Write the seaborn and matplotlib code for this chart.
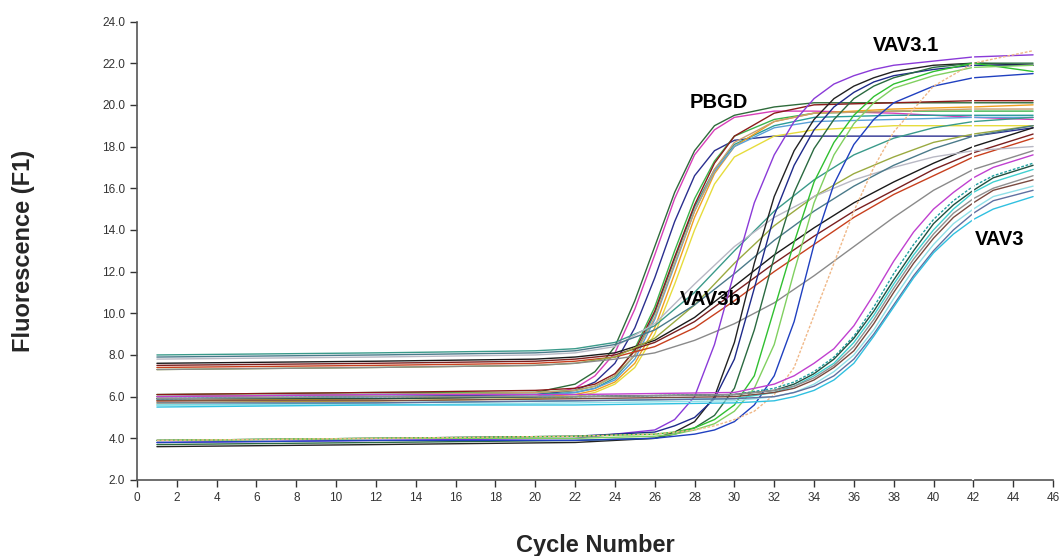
import pandas as pd
import matplotlib
matplotlib.use("Agg")
import matplotlib.pyplot as plt
import seaborn as sns

# ---- data ----
# PBGD: early risers from the ~6 baseline
pbgd_cycles = [1, 12, 20, 22, 23, 24, 25, 26, 27, 28, 29, 30, 32, 34, 38, 42, 45]
pbgd_fluor = [
    [6.0, 6.1, 6.2, 6.6, 7.2, 8.4, 10.6, 13.2, 15.8, 17.8, 19.0, 19.5, 19.9, 20.1, 20.1, 20.1, 20.1],
    [5.8, 5.9, 6.0, 6.4, 7.0, 8.1, 10.2, 12.8, 15.5, 17.6, 18.8, 19.4, 19.7, 19.7, 19.6, 19.4, 19.3],
    [5.9, 6.0, 6.1, 6.3, 6.7, 7.6, 9.3, 11.7, 14.4, 16.6, 17.8, 18.3, 18.5, 18.5, 18.5, 18.5, 18.9],
    [6.1, 6.2, 6.2, 6.3, 6.5, 7.0, 8.3, 10.3, 13.0, 15.5, 17.3, 18.5, 19.3, 19.6, 19.7, 19.7, 19.7],
    [6.0, 6.1, 6.1, 6.2, 6.4, 6.9, 8.0, 10.0, 12.6, 15.1, 16.9, 18.1, 19.0, 19.4, 19.5, 19.5, 19.5],
    [5.8, 5.9, 6.0, 6.1, 6.3, 6.7, 7.6, 9.3, 11.9, 14.6, 16.7, 18.0, 19.2, 19.6, 19.8, 19.9, 20.0],
    [5.7, 5.8, 5.9, 6.0, 6.2, 6.6, 7.4, 9.0, 11.4, 14.0, 16.2, 17.5, 18.5, 18.8, 19.0, 19.0, 19.0],
    [6.1, 6.2, 6.3, 6.4, 6.6, 7.1, 8.2, 10.1, 12.7, 15.2, 17.2, 18.5, 19.6, 20.0, 20.1, 20.2, 20.2],
    [5.9, 6.0, 6.0, 6.2, 6.4, 6.8, 7.8, 9.7, 12.3, 14.9, 16.8, 18.0, 18.9, 19.2, 19.3, 19.4, 19.4],
    [6.0, 6.1, 6.2, 6.3, 6.5, 7.0, 8.0, 9.8, 12.4, 14.9, 16.9, 18.2, 19.2, 19.6, 19.7, 19.8, 19.8],
]
pbgd_colors = ["#2e6b3a", "#d63fb8", "#2a2f8f", "#3cb44b", "#2a9d9a",
               "#f0a020", "#e6dc3c", "#8b1a1a", "#5aa0d8", "#c8a070"]

# VAV3b: slow risers from the ~7.5 baseline
vav3b_cycles = [1, 12, 20, 22, 24, 26, 28, 30, 32, 34, 36, 38, 40, 42, 45]
vav3b_fluor = [
    [7.6, 7.7, 7.8, 7.9, 8.1, 8.7, 9.8, 11.3, 12.8, 14.1, 15.3, 16.3, 17.2, 18.0, 18.9],
    [7.5, 7.6, 7.7, 7.8, 8.0, 8.6, 9.6, 11.0, 12.4, 13.7, 14.9, 15.9, 16.9, 17.7, 18.6],
    [7.4, 7.5, 7.6, 7.7, 7.9, 8.4, 9.3, 10.6, 12.0, 13.3, 14.6, 15.7, 16.6, 17.5, 18.4],
    [7.3, 7.4, 7.5, 7.6, 7.9, 8.8, 10.4, 12.4, 14.2, 15.6, 16.7, 17.5, 18.2, 18.6, 19.0],
    [8.0, 8.1, 8.2, 8.3, 8.6, 9.4, 11.0, 13.0, 14.9, 16.4, 17.6, 18.4, 18.9, 19.2, 19.4],
    [7.8, 7.9, 8.0, 8.1, 8.4, 9.5, 11.4, 13.2, 14.6, 15.6, 16.4, 17.0, 17.5, 17.8, 18.0],
    [7.3, 7.4, 7.5, 7.6, 7.8, 8.1, 8.7, 9.5, 10.5, 11.8, 13.2, 14.6, 15.9, 16.9, 17.8],
    [7.9, 8.0, 8.1, 8.2, 8.5, 9.2, 10.4, 11.9, 13.5, 14.9, 16.1, 17.1, 17.9, 18.5, 19.0],
]
vav3b_colors = ["#1a1a1a", "#7a1f1f", "#c8401e", "#9aaa40",
                "#3a9a8a", "#b8b8c4", "#8a8a8a", "#4a7a8a"]

# VAV3.1: steep risers from the ~4 baseline
vav31_cycles = [1, 12, 22, 26, 27, 28, 29, 30, 31, 32, 33, 34, 35, 36, 37, 38, 40, 42, 45]
vav31_fluor = [
    [3.8, 3.9, 4.0, 4.4, 4.9, 6.0, 8.5, 12.0, 15.3, 17.6, 19.2, 20.3, 21.0, 21.4, 21.7, 21.9, 22.1, 22.3, 22.4],
    [3.6, 3.7, 3.8, 4.0, 4.3, 4.8, 6.0, 8.6, 12.4, 15.6, 17.8, 19.3, 20.3, 20.9, 21.3, 21.6, 21.9, 22.0, 21.9],
    [3.9, 4.0, 4.1, 4.3, 4.6, 5.0, 5.9, 7.8, 11.2, 14.7, 17.1, 18.8, 19.9, 20.6, 21.1, 21.4, 21.7, 21.9, 21.9],
    [3.7, 3.8, 3.9, 4.0, 4.2, 4.5, 5.1, 6.4, 9.2, 12.7, 15.8, 17.9, 19.3, 20.3, 20.9, 21.3, 21.8, 22.0, 22.0],
    [3.9, 4.0, 4.1, 4.2, 4.3, 4.5, 4.9, 5.6, 7.0, 10.2, 13.4, 16.3, 18.2, 19.5, 20.4, 21.0, 21.6, 22.0, 21.6],
    [3.9, 4.0, 4.0, 4.1, 4.2, 4.4, 4.7, 5.3, 6.4, 8.5, 12.0, 15.3, 17.6, 19.1, 20.1, 20.8, 21.4, 21.8, 21.9],
    [3.8, 3.9, 3.9, 4.0, 4.1, 4.2, 4.4, 4.8, 5.6, 7.0, 9.6, 13.3, 16.2, 18.1, 19.3, 20.1, 20.9, 21.3, 21.5],
    [3.9, 4.0, 4.1, 4.2, 4.3, 4.4, 4.6, 4.9, 5.3, 6.1, 7.4, 9.9, 12.4, 14.9, 17.0, 18.7, 20.9, 22.0, 22.6],
]
vav31_colors = ["#8a3ad8", "#222222", "#1e2a8a", "#2a6a40",
                "#30c030", "#80d060", "#2040c0", "#f0b888"]

# VAV3: late risers from the ~6 baseline
vav3_cycles = [1, 12, 22, 30, 32, 33, 34, 35, 36, 37, 38, 39, 40, 41, 42, 43, 45]
vav3_fluor = [
    [6.0, 6.1, 6.1, 6.2, 6.6, 7.0, 7.6, 8.3, 9.4, 10.9, 12.5, 13.9, 15.0, 15.8, 16.5, 17.0, 17.6],
    [5.9, 6.0, 6.0, 6.1, 6.4, 6.7, 7.2, 7.9, 8.9, 10.3, 11.9, 13.3, 14.5, 15.4, 16.1, 16.6, 17.2],
    [5.9, 5.9, 6.0, 6.1, 6.3, 6.6, 7.1, 7.8, 8.8, 10.1, 11.6, 13.0, 14.3, 15.2, 15.9, 16.5, 17.1],
    [5.6, 5.7, 5.8, 5.9, 6.2, 6.5, 7.0, 7.6, 8.6, 9.9, 11.4, 12.8, 14.0, 15.0, 15.8, 16.3, 16.9],
    [5.9, 6.0, 6.0, 6.1, 6.3, 6.5, 6.9, 7.5, 8.4, 9.7, 11.2, 12.6, 13.8, 14.8, 15.5, 16.0, 16.6],
    [5.8, 5.8, 5.9, 6.0, 6.2, 6.4, 6.8, 7.4, 8.2, 9.5, 11.0, 12.4, 13.6, 14.6, 15.3, 15.9, 16.4],
    [5.6, 5.6, 5.7, 5.8, 6.0, 6.2, 6.6, 7.2, 8.0, 9.2, 10.7, 12.1, 13.3, 14.3, 15.0, 15.6, 16.1],
    [5.7, 5.7, 5.8, 5.9, 6.0, 6.2, 6.5, 7.0, 7.8, 9.0, 10.4, 11.8, 13.0, 14.0, 14.8, 15.4, 15.9],
    [5.5, 5.6, 5.6, 5.7, 5.8, 6.0, 6.3, 6.8, 7.6, 8.9, 10.3, 11.7, 12.9, 13.8, 14.5, 15.0, 15.6],
]
vav3_colors = ["#c040d0", "#20a0a0", "#205040", "#40d0d0", "#909090",
               "#7a4a40", "#90e0e8", "#6070a0", "#30c0e0"]

# dotted traces (light orange VAV3.1 well, teal VAV3 well)
dotted_wells = ["VAV3.1-8", "VAV3-2"]

labels = [("PBGD", 29.2, 19.65), ("VAV3.1", 38.6, 22.4),
          ("VAV3b", 28.8, 10.2), ("VAV3", 43.3, 13.1)]

# ---- long table ----
rows = []
palette = {}
groups = [("PBGD", pbgd_cycles, pbgd_fluor, pbgd_colors),
          ("VAV3b", vav3b_cycles, vav3b_fluor, vav3b_colors),
          ("VAV3.1", vav31_cycles, vav31_fluor, vav31_colors),
          ("VAV3", vav3_cycles, vav3_fluor, vav3_colors)]
for name, cyc, fluor, cols in groups:
    for i, (vals, col) in enumerate(zip(fluor, cols)):
        well = f"{name}-{i + 1}"
        palette[well] = col
        style = "dot" if well in dotted_wells else "solid"
        for c, v in zip(cyc, vals):
            rows.append({"well": well, "cycle": c, "fluor": v, "style": style})
df = pd.DataFrame(rows)

# ---- plot ----
sns.set_style("white")
plt.rcParams["font.family"] = ["Liberation Sans", "DejaVu Sans"]

fig = plt.figure(figsize=(10.6, 5.56), dpi=100)
ax = fig.add_axes([137 / 1060, 76 / 556, 916 / 1060, 458.5 / 556])

sns.lineplot(data=df, x="cycle", y="fluor", hue="well", style="style",
             palette=palette, dashes={"solid": "", "dot": (2, 1.2)},
             estimator=None, sort=False, legend=False, linewidth=1.0, ax=ax)

# stitched-image seam at cycle 42
ax.axvline(42, color="white", lw=1.6, zorder=3)

ax.set_xlim(0, 46)
ax.set_ylim(2, 24)
ax.set_xticks(range(0, 47, 2))
ax.set_yticks(range(2, 25, 2))
ax.set_yticklabels([f"{v:.1f}" for v in range(2, 25, 2)])
ax.tick_params(axis="both", direction="out", length=5, width=1,
               labelsize=8.5, colors="#333333", bottom=True, left=True)
for side in ["top", "right"]:
    ax.spines[side].set_visible(False)
for side in ["left", "bottom"]:
    ax.spines[side].set_color("#555555")
    ax.spines[side].set_linewidth(1.2)

ax.set_xlabel("Cycle Number", fontsize=17, fontweight="bold", labelpad=22)
ax.set_ylabel("Fluorescence (F1)", fontsize=17, fontweight="bold", labelpad=48)

for txt, x, y in labels:
    ax.text(x, y, txt, fontsize=14.5, fontweight="bold", ha="center",
            va="bottom", color="black", zorder=5)

fig.savefig("out.png", dpi=100)
